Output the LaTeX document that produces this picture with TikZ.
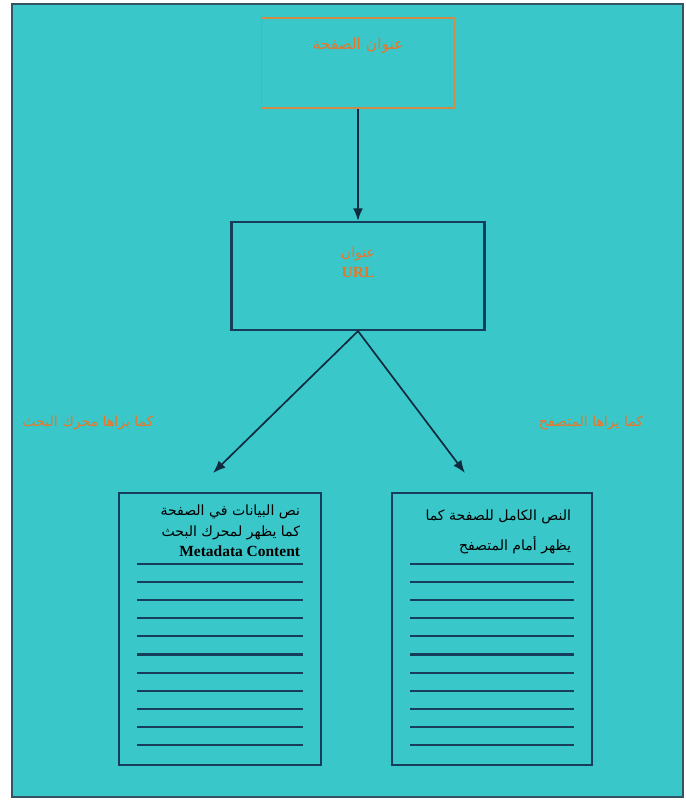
\documentclass[tikz,border=0pt]{standalone}
\usepackage{fontspec}
\setmainfont{Liberation Serif}
\newfontfamily\arabicfont[Script=Arabic]{DejaVu Sans}
\TeXXeTstate=1
\usetikzlibrary{arrows.meta,positioning}
\definecolor{sea}{RGB}{58,199,201}
\definecolor{ink}{RGB}{22,62,90}
\definecolor{rust}{RGB}{232,118,40}
\definecolor{tan}{RGB}{205,140,70}

\begin{document}
\begin{tikzpicture}[x=0.025cm,y=-0.025cm,
  box/.style={draw=ink,line width=1.5pt,fill=sea},
  link/.style={-{Latex[length=9pt,width=7pt]},draw=ink!70!black,line width=1.2pt},
  rule/.style={draw=ink,line width=1.5pt},
  tag/.style={text=rust,font=\arabicfont\fontsize{10}{12}\selectfont},
  say/.style={text=black,font=\arabicfont\fontsize{10}{15}\selectfont,align=right}]

\useasboundingbox (0,0) rectangle (685,801);
\fill[white] (0,0) rectangle (685,801);
\draw[fill=sea,draw=ink!70!gray,line width=1.6pt] (12,4) rectangle (683,797);

\node[box,draw=tan,line width=1.2pt,minimum width=4.825cm,minimum height=2.25cm] (title) at (358,63){};
\node[tag,font=\arabicfont\fontsize{11}{12}\selectfont] (titletext) at (358,46){\beginR عنوان الصفحة\endR};
\node[box,minimum width=6.325cm,minimum height=2.7cm] (url) at (358,276){};
\node[tag,align=center] (urltext) at (358,262){\beginR عنوان\endR\\[2pt]{\rmfamily\bfseries\fontsize{11}{12}\selectfont URL}};
\node[tag] (leftcap) at (88,423){\beginR كما يراها محرك البحث\endR};
\node[tag] (rightcap) at (591,423){\beginR كما يراها المتصفح\endR};

\node[box,minimum width=5.05cm,minimum height=6.8cm] (meta) at (220,629){};
\node[box,minimum width=5cm,minimum height=6.8cm] (page) at (492,629){};
\coordinate (metaend) at (213,473);
\coordinate (pageend) at (465,473);

\draw[link] (title) -- (url);
\draw[link] (url.south) -- (metaend);
\draw[link] (url.south) -- (pageend);

\node[say,anchor=north east] (metatext) at (305,500){\beginR نص البيانات في الصفحة\endR\\\beginR كما يظهر لمحرك البحث\endR\\[-1pt]{\rmfamily\bfseries\fontsize{11}{12}\selectfont Metadata Content}};
\node[say,anchor=north east,font=\arabicfont\fontsize{10}{21}\selectfont] (pagetext) at (576,505){\beginR النص الكامل للصفحة كما\endR\\\beginR يظهر أمام المتصفح\endR};

\foreach \y in {0,...,10}{
  \draw[rule] (137,564+18.1*\y) -- (303,564+18.1*\y);
  \draw[rule] (410,564+18.1*\y) -- (574,564+18.1*\y);
}

\end{tikzpicture}
\end{document}
